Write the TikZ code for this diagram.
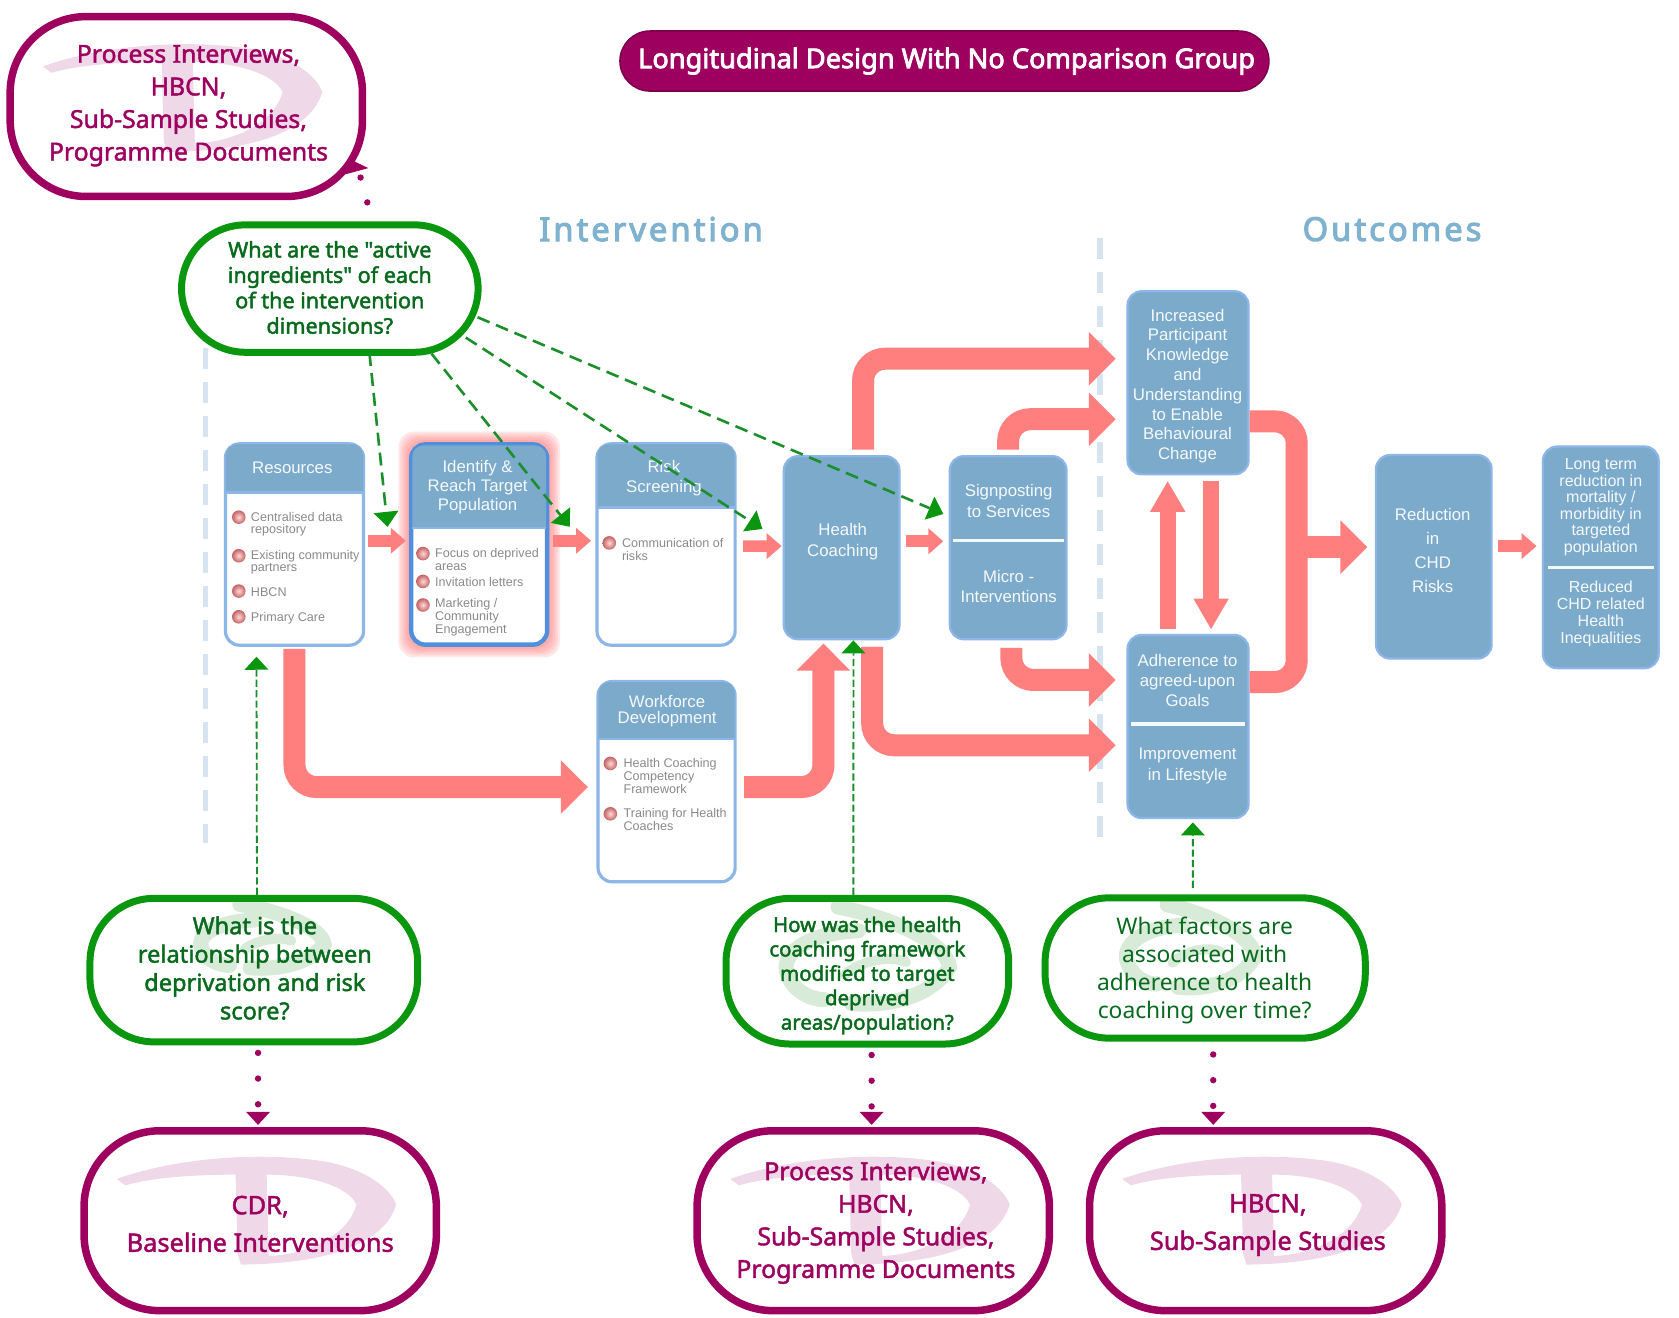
\documentclass[tikz,border=0pt]{standalone}
\usepackage{fontspec}
\usetikzlibrary{arrows.meta}
\setmainfont{Liberation Sans}
\newfontfamily\qfontbase{Noto Sans}
\newcommand\qfont{\qfontbase\special{pdf:code 2 Tr 0.22 w}}
\newcommand\qfontl{\qfontbase}
\newfontfamily\hfontbase[LetterSpace=9]{Noto Sans}
\newcommand\hfont{\hfontbase\special{pdf:code 2 Tr 0.55 w}}
\newcommand\tfont{\qfontbase\special{pdf:code 2 Tr 0.4 w}}
\def\uu{0.5355pt}
\definecolor{pur}{HTML}{9E0060}
\definecolor{grn}{HTML}{0A960F}
\definecolor{grntxt}{HTML}{086A1C}
\definecolor{dline}{HTML}{1B8F2B}
\definecolor{boxfill}{HTML}{7BAACB}
\definecolor{boxedge}{HTML}{8CB5E8}
\definecolor{identedge}{HTML}{4F8FDC}
\definecolor{flowc}{HTML}{FF7F7F}
\definecolor{sepc}{HTML}{D5E4F0}
\definecolor{headc}{HTML}{7FB2CF}
\definecolor{itemc}{HTML}{8A8A8A}
\definecolor{wmp}{HTML}{EFD9E9}
\definecolor{wmg}{HTML}{D8EAD8}
\tikzset{
  x=0.5355pt,y=-0.5355pt,
  sized/.style 2 args={minimum width=#1*\uu,minimum height=#2*\uu,inner sep=0pt},
  pillp/.style={draw=pur,line width=3.75pt,rounded corners=38pt},
  pillg/.style={draw=grn,line width=3.5pt,rounded corners=32pt},
  ptext/.style={text=pur,align=center,inner sep=0pt,font=\qfont\fontsize{12.4}{16.3}\selectfont},
  gtext/.style={text=grntxt,align=center,inner sep=0pt,font=\qfont\fontsize{10.8}{12.7}\selectfont},
  panel/.style={draw=boxedge,line width=1.6pt,fill=white,rounded corners=7pt},
  solid box/.style={draw=boxedge,line width=1.1pt,fill=boxfill,rounded corners=7pt},
  wtext/.style={text=white!93!boxfill,align=center,inner sep=0pt,font=\fontsize{8.4}{9.9}\selectfont},
  item/.style={text=itemc,align=left,anchor=west,inner sep=0pt,font=\fontsize{6.3}{6.4}\selectfont},
  flow/.style={draw=flowc,line width=11pt,rounded corners=11pt,
     -{Triangle[length=13.5pt,width=26pt,color=flowc]}},
  flowv/.style={draw=flowc,line width=7.8pt,
     -{Triangle[length=15.5pt,width=16.5pt,color=flowc]}},
  flows/.style={draw=flowc,line width=5.8pt,
     -{Triangle[length=7.5pt,width=12.5pt,color=flowc]}},
  dashg/.style={draw=dline,line width=1.3pt,dash pattern=on 6.5pt off 3.5pt,
     -{Triangle[length=7.5pt,width=12.5pt,color=grn,fill=grn,line width=0pt]}},
  dashf/.style={draw=dline,line width=.9pt,dash pattern=on 3.6pt off 1.6pt,
     -{Triangle[length=6.5pt,width=12pt,color=grn,fill=grn,line width=0pt]}},
  dots/.style={draw=pur,line width=3.2pt,line cap=round,dash pattern=on 0pt off 12.85pt,
     -{Triangle[length=6.5pt,width=12pt,color=pur,fill=pur,line width=0pt,round=false]}},
  sep/.style={draw=sepc,line width=2.8pt,dash pattern=on 10.5pt off 6.5pt},
  divider/.style={draw=white!90!boxedge,line width=1.7pt},
  heading/.style={text=headc,inner sep=0pt,font=\hfont\fontsize{16.4}{18}\selectfont},
}
\newcommand\dmark[2]{\begin{scope}[shift={(#1,#2)}]
  \fill[wmp,even odd rule]
    (34,48) .. controls (90,28) and (170,22) .. (230,32)
    .. controls (270,40) and (290,58) .. (295,72)
    .. controls (285,105) and (240,127) .. (150,128)
    -- (147,118) -- (145,44) .. controls (110,44) and (70,46) .. (42,54) -- cycle
    (174,44) .. controls (215,44) and (250,55) .. (258,72)
    .. controls (250,100) and (215,118) .. (176,120) -- cycle;
\end{scope}}
\newcommand\swirl[4]{\begin{scope}[shift={(#1,#2)},xscale=#3,yscale=#4]
  \draw[wmg,line width=7.5pt,line cap=round]
    (-35,-59) .. controls (10,-49) and (45,-29) .. (47,-11)
    .. controls (35,11) and (5,21) .. (-25,18);
  \draw[wmg,line width=7.5pt,line cap=round]
    (-20,-40) .. controls (-60,-38) and (-78,-20) .. (-72,-5)
    .. controls (-68,8) and (-55,15) .. (-45,15);
  \draw[wmg,line width=5pt,line cap=round]
    (-30,-5) .. controls (-15,-18) and (5,-20) .. (15,-15);
\end{scope}}
\newcommand\hdrfill[4]{%
  \fill[boxfill] (#1,#4) [rounded corners=5.5pt] -- (#1,#3) -- (#2,#3) [sharp corners] -- (#2,#4) -- cycle;
  \draw[boxedge,line width=1.1pt] (#1,#4) -- (#2,#4);}
\newcommand\ball[2]{\shade[inner color=red!15!white,outer color=red!45!gray!85!white] (#1,#2) circle (3.4pt);}
\begin{document}
\begin{tikzpicture}
\useasboundingbox (0,0) rectangle (1568,1230);
\fill[white] (0,0) rectangle (1568,1230);

% title and headings
\node[sized={606}{56},fill=pur,draw=pur!80!black,line width=.8pt,rounded corners=15pt] (title) at (882,57) {};
\node[text=white,inner sep=0pt,font=\tfont\fontsize{13.6}{15}\selectfont] (titlet) at (884,57) {Longitudinal Design With No Comparison Group};
\node[heading] (hint) at (608,214) {Intervention};
\node[heading] (hout) at (1300,214) {Outcomes};

% separators
\coordinate (s1a) at (192,325); \coordinate (s1b) at (192,787);
\coordinate (s2a) at (1027,222); \coordinate (s2b) at (1027,787);
\draw[sep] (s1a) -- (s1b);
\draw[sep] (s2a) -- (s2b);

% panels
\foreach \g in {10,8,6,4,2}{
  \fill[flowc,opacity=.18,rounded corners=8pt] (382-\g,413-\g) rectangle (513+\g,604+\g);}
\node[panel,sized={129}{188}] (res) at (275,508.5) {};
\hdrfill{211}{339}{415}{460}
\node[panel,draw=identedge,line width=2.2pt,sized={127}{187}] (ident) at (447.5,508.5) {};
\hdrfill{385}{510}{416}{493}
\node[panel,sized={129}{188}] (risk) at (622,508.5) {};
\hdrfill{558}{686}{415}{474}
\node[panel,sized={128}{187}] (wf) at (622.5,730) {};
\hdrfill{559}{686}{637}{690}
\node[solid box,sized={108}{171}] (hc) at (786,511.5) {};
\node[solid box,sized={109}{171}] (sp) at (941.5,511.5) {};
\node[solid box,sized={113}{171}] (inc) at (1109.5,357.5) {};
\node[solid box,sized={113}{171}] (adh) at (1109.5,678.5) {};
\node[solid box,sized={108}{190}] (red) at (1339,520) {};
\node[solid box,sized={108}{207}] (lt) at (1495,520.5) {};
\draw[divider] ([xshift=2pt]sp.west|-0,505) -- ([xshift=-2pt]sp.east|-0,505);
\draw[divider] ([xshift=2.5pt]adh.west|-0,676) -- ([xshift=-2.5pt]adh.east|-0,676);
\draw[divider] ([xshift=3pt]lt.west|-0,530) -- ([xshift=-3pt]lt.east|-0,530);

% panel texts
\node[wtext] (rest) at (273,436.5) {Resources};
\node[wtext,font=\fontsize{8.4}{9.4}\selectfont] (identt) at (446,455) {Identify \&\\Reach Target\\Population};
\node[wtext] (riskt) at (620,446.5) {Risk\\Screening};
\node[wtext,font=\fontsize{8.4}{8}\selectfont] (wft) at (623,664) {Workforce\\Development};
\node[wtext,font=\fontsize{8.4}{10.2}\selectfont] (hct) at (787,506) {Health\\Coaching};
\node[wtext,font=\fontsize{8.4}{10.2}\selectfont] (spt) at (942,468) {Signposting\\to Services};
\node[wtext,font=\fontsize{8.4}{10.2}\selectfont] (spb) at (942,547.5) {Micro -\\Interventions};
\node[wtext] (inct) at (1109,360.5) {Increased\\Participant\\Knowledge\\and\\Understanding\\to Enable\\Behavioural\\Change};
\node[wtext] (adht) at (1109,635.5) {Adherence to\\agreed-upon\\Goals};
\node[wtext,font=\fontsize{8.4}{10.2}\selectfont] (adhb) at (1109,715.5) {Improvement\\in Lifestyle};
\node[wtext,font=\fontsize{8.4}{12}\selectfont] (redt) at (1338,514) {Reduction\\in\\CHD\\Risks};
\node[wtext,font=\fontsize{8}{8.25}\selectfont] (ltt) at (1495,473.5) {Long term\\reduction in\\mortality /\\morbidity in\\targeted\\population};
\node[wtext,font=\fontsize{8}{8.5}\selectfont] (ltb) at (1495,573) {Reduced\\CHD related\\Health\\Inequalities};

% items
\ball{223}{483}\ball{223}{519}\ball{223}{552}\ball{223}{576}
\node[item] (r1) at (234,489.5) {Centralised data\\repository};
\node[item] (r2) at (234,525) {Existing community\\partners};
\node[item] (r3) at (234,553) {HBCN};
\node[item] (r4) at (234,577) {Primary Care};
\ball{395}{517}\ball{395}{543}\ball{395}{565}
\node[item] (i1) at (406,522.5) {Focus on deprived\\areas};
\node[item] (i2) at (406,543.5) {Invitation letters};
\node[item] (i3) at (406,576.5) {Marketing /\\Community\\Engagement};
\ball{569}{507}
\node[item] (k1) at (580.5,513.5) {Communication of\\risks};
\ball{570}{713}\ball{570}{760}
\node[item] (w1) at (582,724.5) {Health Coaching\\Competency\\Framework};
\node[item] (w2) at (582,765) {Training for Health\\Coaches};

% flow arrows
\draw[flow] ([shift={(0,2)}]res.south) |- ([shift={(-8,5)}]wf.west);
\draw[flow] ([shift={(7,5)}]wf.east) -| ([shift={(-17,3)}]hc.south);
\draw[flow] ([shift={(20,-5)}]hc.north) |- ([shift={(-10,-22.5)}]inc.west);
\draw[flow] ([shift={(0,-5)}]sp.north) |- ([shift={(-10,34)}]inc.west);
\draw[flow] ([shift={(3,7)}]sp.south) |- ([shift={(-10,-43.5)}]adh.west);
\draw[flow] ([shift={(28.5,6)}]hc.south) |- ([shift={(-10,17.5)}]adh.west);
\draw[flowv] ([shift={(21.5,5)}]inc.south) -- ([shift={(21.5,-4)}]adh.north);
\draw[flowv] ([shift={(-19,-5)}]adh.north) -- ([shift={(-19,5)}]inc.south);
\coordinate (junction) at (1211,511);
\draw[draw=flowc,line width=11pt,rounded corners=11pt]
  ([shift={(0,36)}]inc.east) -| (junction) |- ([shift={(0,-41.5)}]adh.east);
\draw[flow] (junction) -- ([shift={(-7,-9)}]red.west);
\draw[flows] ([shift={(3,-3.5)}]res.east) -- ([shift={(-3,-3.5)}]ident.west);
\draw[flows] ([shift={(3,-3.5)}]ident.east) -- ([shift={(-4,-3.5)}]risk.west);
\draw[flows] ([shift={(6,1.5)}]risk.east) -- ([shift={(-1,-1.5)}]hc.west);
\draw[flows] ([shift={(5,-6)}]hc.east) -- ([shift={(-5,-6)}]sp.west);
\draw[flows] ([shift={(5,-10)}]red.east) -- ([shift={(-5,-10.5)}]lt.west);

% question and source pills
\dmark{6}{14}
\node[pillp,sized={329}{168}] (p1) at (174,99.5) {};
\node[ptext] (p1t) at (176,98.5) {Process Interviews,\\HBCN,\\Sub-Sample Studies,\\Programme Documents};
\dmark{75}{1053}
\node[pillp,sized={329}{168}] (p2) at (243,1140) {};
\node[ptext,font=\qfont\fontsize{12.7}{18.8}\selectfont] (p2t) at (243,1143) {CDR,\\Baseline Interventions};
\dmark{648}{1053}
\node[pillp,sized={329}{168}] (p3) at (815.5,1140) {};
\node[ptext] (p3t) at (818,1142) {Process Interviews,\\HBCN,\\Sub-Sample Studies,\\Programme Documents};
\dmark{1014}{1053}
\node[pillp,sized={329}{168}] (p4) at (1182,1140) {};
\node[ptext,font=\qfont\fontsize{12.7}{18.8}\selectfont] (p4t) at (1184,1144) {HBCN,\\Sub-Sample Studies};

\node[pillg,fill=white,sized={277}{119}] (g1) at (308,269.5) {};
\node[gtext] (g1t) at (308,268.5) {What are the "active\\ingredients" of each\\of the intervention\\dimensions?};
\swirl{257.5}{890}{.96}{.77}
\node[pillg,sized={306}{134}] (g2) at (237,906) {};
\node[gtext,font=\qfont\fontsize{11.8}{14.2}\selectfont] (g2t) at (238,904) {What is the\\relationship between\\deprivation and risk\\score?};
\swirl{827}{916}{1.27}{1.17}
\node[pillg,sized={264}{136}] (g3) at (810,907) {};
\node[gtext,font=\qfont\fontsize{10.2}{12.2}\selectfont] (g3t) at (810,911) {How was the health\\coaching framework\\modified to target\\deprived\\areas/population?};
\swirl{1125}{904}{1}{1}
\node[pillg,sized={299}{131}] (g4) at (1125.5,904) {};
\node[gtext,font=\qfontl\fontsize{11.4}{14.1}\selectfont] (g4t) at (1125,906.5) {What factors are\\associated with\\adherence to health\\coaching over time?};

% question connectors
\draw[dashg] ([shift={(37,-2.5)}]g1.south) -- ([shift={(-20,-16.5)}]ident.west);
\draw[dashg] ([shift={(95,-2)}]g1.south) -- ([shift={(19,79)}]ident.north east);
\draw[dashg] ([shift={(127,-17)}]g1.south) -- ([shift={(24,81)}]risk.north east);
\draw[dashg] ([shift={(138,-36)}]g1.south) -- ([shift={(-5,55)}]sp.north west);
\draw[dashf] ([xshift=1.6pt,yshift=0pt]g2.north) -- ([xshift=-19pt,yshift=-5pt]res.south);
\draw[dashf] ([xshift=-7pt]g3.north) -- ([shift={(11,0)}]hc.south);
\draw[dashf] ([shift={(-11.5,-6)}]g4.north) -- ([shift={(4.5,3)}]adh.south);
\draw[dots] ([shift={(4,7)}]g2.south) -- ([shift={(-2,-2)}]p2.north);
\draw[dots] ([shift={(4,7)}]g3.south) -- ([shift={(-1.5,-2)}]p3.north);
\draw[dots] ([shift={(7.5,12)}]g4.south) -- ([shift={(-49,-2)}]p4.north);
\coordinate (dotA) at (343,189);
\draw[dots,-] (dotA) -- ([shift={(-6.5,-24)}]dotA);
\fill[pur] (328.5,149.6) -- (344,157) -- (322.9,162.7) -- cycle;
\end{tikzpicture}
\end{document}
